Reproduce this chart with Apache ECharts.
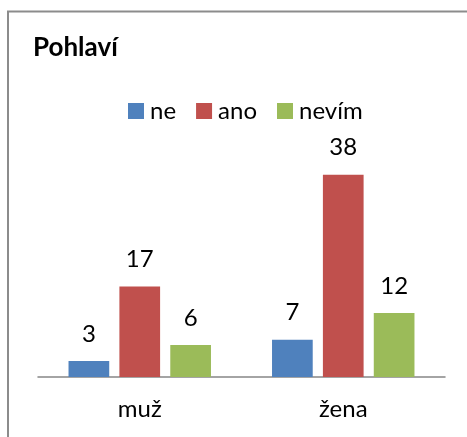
<!DOCTYPE html>
<html>
<head>
<meta charset="utf-8">
<script src="https://cdn.jsdelivr.net/npm/echarts@6/dist/echarts.min.js"></script>
<style>
html,body{margin:0;padding:0;background:#fff;}
#chart{width:467px;height:437px;}
</style>
</head>
<body>
<div id="chart"></div>
<script>
const categories = ['muž', 'žena'];
const seriesNames = ['ne', 'ano', 'nevím'];
const neValues = [3, 7];
const anoValues = [17, 38];
const nevimValues = [6, 12];
const chartTitle = 'Pohlaví';

const FONT = 'Lato';
const chart = echarts.init(document.getElementById('chart'), null, {renderer: 'canvas'});
const colors = ['#4F81BD', '#C0504D', '#9BBB59'];
const values = [neValues, anoValues, nevimValues];

chart.setOption({
  animation: false,
  backgroundColor: '#ffffff',
  color: colors,
  title: {
    text: chartTitle,
    left: 33,
    top: 35,
    padding: 0,
    textStyle: {fontFamily: FONT, fontWeight: 'bold', fontSize: 26, color: '#000'}
  },
  legend: {
    data: seriesNames,
    left: 128,
    top: 99,
    padding: 0,
    icon: 'rect',
    itemWidth: 16,
    itemHeight: 16,
    itemGap: 20,
    textStyle: {fontFamily: FONT, fontSize: 24, color: '#000', padding: [0, 0, 0, 1]}
  },
  grid: {left: 38, right: 22, top: 164, bottom: 60, containLabel: false},
  xAxis: {
    type: 'category',
    data: categories,
    axisLine: {show: true, lineStyle: {color: '#868686', width: 1.5}},
    axisTick: {show: false},
    axisLabel: {fontFamily: FONT, fontSize: 24, color: '#000', margin: 20}
  },
  yAxis: {
    type: 'value',
    min: 0,
    max: 40,
    show: false,
    splitLine: {show: false}
  },
  series: seriesNames.map((name, i) => ({
    name: name,
    type: 'bar',
    data: values[i],
    barWidth: '20%',
    barGap: '25%',
    itemStyle: {color: colors[i]},
    label: {
      show: true,
      position: 'top',
      distance: 15,
      fontFamily: FONT,
      fontSize: 24,
      color: '#000'
    }
  })),
  graphic: [{
    type: 'rect',
    shape: {x: 8, y: 11.5, width: 520, height: 500},
    style: {fill: 'none', stroke: '#8c8c8c', lineWidth: 2},
    silent: true,
    z: 100
  }]
});
</script>
</body>
</html>
